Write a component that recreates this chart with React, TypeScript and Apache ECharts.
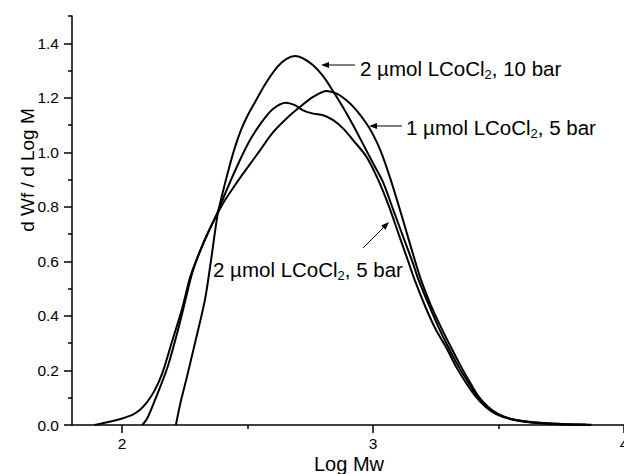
import React, { useEffect, useRef } from 'react';
import * as echarts from 'echarts';

const FONT = '"Liberation Sans", Arial, Helvetica, sans-serif';

// Curve: 2 µmol LCoCl2, 10 bar
const logMw10bar2 = [2.214, 2.225, 2.237, 2.255, 2.29, 2.33, 2.355, 2.38, 2.40, 2.425, 2.45, 2.475, 2.50, 2.53, 2.57, 2.62, 2.655, 2.688, 2.72, 2.76, 2.80, 2.84, 2.88, 2.92, 2.96, 3.00, 3.04, 3.08, 3.12, 3.16, 3.18, 3.22, 3.26, 3.30, 3.34, 3.38, 3.415, 3.45, 3.49, 3.55, 3.63, 3.73, 3.85];
const dwf10bar2 = [0, 0.05, 0.10, 0.165, 0.30, 0.46, 0.61, 0.77, 0.85, 0.94, 1.02, 1.085, 1.135, 1.185, 1.25, 1.315, 1.343, 1.353, 1.345, 1.32, 1.28, 1.225, 1.165, 1.10, 1.03, 0.96, 0.89, 0.79, 0.69, 0.59, 0.535, 0.445, 0.36, 0.285, 0.215, 0.155, 0.105, 0.068, 0.042, 0.022, 0.01, 0.004, 0.001];

// Curve: 1 µmol LCoCl2, 5 bar
const logMw5bar1 = [2.08, 2.10, 2.13, 2.18, 2.22, 2.25, 2.28, 2.32, 2.36, 2.40, 2.45, 2.50, 2.55, 2.60, 2.655, 2.708, 2.761, 2.815, 2.855, 2.894, 2.934, 2.974, 3.00, 3.03, 3.07, 3.11, 3.15, 3.19, 3.23, 3.27, 3.31, 3.35, 3.39, 3.42, 3.46, 3.50, 3.56, 3.65, 3.75, 3.87];
const dwf5bar1 = [0, 0.025, 0.09, 0.21, 0.34, 0.45, 0.56, 0.66, 0.74, 0.81, 0.88, 0.945, 1.008, 1.072, 1.124, 1.166, 1.203, 1.225, 1.215, 1.191, 1.154, 1.105, 1.065, 1.005, 0.90, 0.78, 0.655, 0.535, 0.44, 0.36, 0.286, 0.215, 0.15, 0.105, 0.065, 0.04, 0.02, 0.009, 0.004, 0.001];

// Curve: 2 µmol LCoCl2, 5 bar
const logMw5bar2 = [1.89, 1.95, 2.00, 2.04, 2.07, 2.10, 2.13, 2.16, 2.20, 2.24, 2.27, 2.30, 2.34, 2.38, 2.416, 2.463, 2.509, 2.556, 2.602, 2.653, 2.688, 2.721, 2.761, 2.801, 2.841, 2.881, 2.921, 2.974, 3.02, 3.06, 3.10, 3.14, 3.166, 3.21, 3.25, 3.294, 3.33, 3.37, 3.41, 3.45, 3.49, 3.55, 3.62, 3.72, 3.85];
const dwf5bar2 = [0, 0.012, 0.024, 0.037, 0.055, 0.085, 0.128, 0.19, 0.31, 0.43, 0.54, 0.615, 0.70, 0.78, 0.861, 0.959, 1.044, 1.111, 1.16, 1.182, 1.173, 1.154, 1.142, 1.136, 1.118, 1.087, 1.044, 0.983, 0.90, 0.81, 0.705, 0.60, 0.531, 0.43, 0.35, 0.28, 0.215, 0.155, 0.103, 0.065, 0.04, 0.021, 0.01, 0.004, 0.001];

const xMajorTicks = [2, 3, 4];
const xMinorTicks = [2.5, 3.5];
const yMajorTicks = [0, 0.2, 0.4, 0.6, 0.8, 1.0, 1.2, 1.4];
const yMinorTicks = [0.1, 0.3, 0.5, 0.7, 0.9, 1.1, 1.3, 1.5];

const xTitle = 'Log Mw';
const yTitle = 'd Wf / d Log M';
const labelRich = (pre: string, post: string) => `{a|${pre}}{s|2}{a|${post}}`;

const pairs = (xs: number[], ys: number[]) => xs.map((x, i) => [x, ys[i]]);

export default function App() {
  const ref = useRef<HTMLDivElement>(null);
  useEffect(() => {
    document.body.style.margin = '0';
    const chart = echarts.init(ref.current!, null, { renderer: 'svg' });
    const axisColor = '#000';
    const lineStyle = { color: '#000', width: 2 };
    const rich = {
      a: { fontSize: 20.5, fontFamily: FONT, fill: '#000', lineHeight: 26 },
      s: { fontSize: 13, fontFamily: FONT, fill: '#000', lineHeight: 26, verticalAlign: 'bottom' },
    };
    const arrowHead = (tx: number, ty: number, dx: number, dy: number) => {
      const len = 8, half = 3;
      const bx = tx - dx * len, by = ty - dy * len;
      const px = -dy, py = dx;
      return {
        type: 'polygon',
        shape: { points: [[tx, ty], [bx + px * half, by + py * half], [bx - px * half, by - py * half]] },
        style: { fill: '#000' },
      };
    };
    const s2 = Math.SQRT1_2;
    chart.setOption({
      animation: false,
      backgroundColor: '#fff',
      grid: { left: 72, right: 0, top: 16, bottom: 49, containLabel: false, outerBoundsMode: 'none' },
      xAxis: [
        {
          type: 'value', min: 1.8, max: 4, position: 'bottom',
          axisLine: { show: true, onZero: false, lineStyle: { color: axisColor, width: 1.5 } },
          axisTick: { show: true, inside: false, length: 8, customValues: xMajorTicks, lineStyle: { color: axisColor, width: 1.5 } },
          axisLabel: { customValues: xMajorTicks, margin: 10, fontSize: 15.5, lineHeight: 16, color: '#000', fontFamily: FONT, formatter: (v: number) => String(v), hideOverlap: false },
          splitLine: { show: false },
        },
        {
          type: 'value', min: 1.8, max: 4, position: 'bottom',
          axisLine: { show: false, onZero: false },
          axisTick: { show: true, inside: false, length: 4, customValues: xMinorTicks, lineStyle: { color: axisColor, width: 1.5 } },
          axisLabel: { show: false },
          splitLine: { show: false },
        },
      ],
      yAxis: [
        {
          type: 'value', min: 0, max: 1.5, position: 'left',
          axisLine: { show: true, onZero: false, lineStyle: { color: axisColor, width: 1.5 } },
          axisTick: { show: true, inside: false, length: 8, customValues: yMajorTicks, lineStyle: { color: axisColor, width: 1.5 } },
          axisLabel: { customValues: yMajorTicks, margin: 13, fontSize: 15.5, color: '#000', fontFamily: FONT, formatter: (v: number) => v.toFixed(1) },
          splitLine: { show: false },
        },
        {
          type: 'value', min: 0, max: 1.5, position: 'left',
          axisLine: { show: false, onZero: false },
          axisTick: { show: true, inside: false, length: 4, customValues: yMinorTicks, lineStyle: { color: axisColor, width: 1.5 } },
          axisLabel: { show: false },
          splitLine: { show: false },
        },
      ],
      series: [
        { name: '2 µmol LCoCl2, 10 bar', type: 'line', xAxisIndex: 0, yAxisIndex: 0, data: pairs(logMw10bar2, dwf10bar2), showSymbol: false, smooth: 0.3, lineStyle },
        { name: '1 µmol LCoCl2, 5 bar', type: 'line', xAxisIndex: 0, yAxisIndex: 0, data: pairs(logMw5bar1, dwf5bar1), showSymbol: false, smooth: 0.3, lineStyle },
        { name: '2 µmol LCoCl2, 5 bar', type: 'line', xAxisIndex: 0, yAxisIndex: 0, data: pairs(logMw5bar2, dwf5bar2), showSymbol: false, smooth: 0.3, lineStyle },
      ],
      graphic: [
        {
          type: 'text', x: 27, y: 170, rotation: Math.PI / 2,
          style: { text: yTitle, fontSize: 19, fontFamily: FONT, fill: '#000', align: 'center', verticalAlign: 'middle' },
        },
        {
          type: 'text', x: 349, y: 464,
          style: { text: xTitle, fontSize: 20, lineHeight: 20, fontFamily: FONT, fill: '#000', align: 'center', verticalAlign: 'middle' },
        },
        {
          type: 'text', x: 360, y: 68,
          style: { text: labelRich('2 µmol LCoCl', ', 10 bar'), rich, align: 'left', verticalAlign: 'middle' },
        },
        { type: 'line', shape: { x1: 355, y1: 65, x2: 328, y2: 65 }, style: { stroke: '#000', lineWidth: 1 } },
        arrowHead(321, 65, -1, 0),
        {
          type: 'text', x: 406, y: 127,
          style: { text: labelRich('1 µmol LCoCl', ', 5 bar'), rich, align: 'left', verticalAlign: 'middle' },
        },
        { type: 'line', shape: { x1: 402, y1: 126, x2: 376, y2: 126 }, style: { stroke: '#000', lineWidth: 1 } },
        arrowHead(369, 126, -1, 0),
        {
          type: 'text', x: 213, y: 269,
          style: { text: labelRich('2 µmol LCoCl', ', 5 bar'), rich, align: 'left', verticalAlign: 'middle' },
        },
        { type: 'line', shape: { x1: 363, y1: 248, x2: 384, y2: 227 }, style: { stroke: '#000', lineWidth: 1 } },
        arrowHead(389, 222, s2, -s2),
      ],
    });
    return () => chart.dispose();
  }, []);
  return <div ref={ref} style={{ width: 624, height: 474 }} />;
}
